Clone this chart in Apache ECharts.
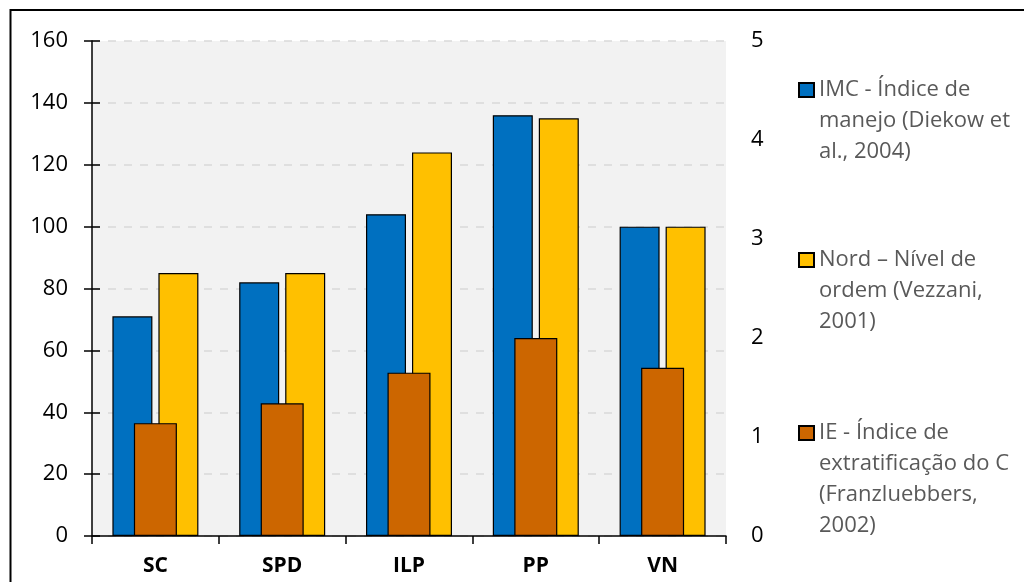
<!DOCTYPE html>
<html>
<head>
<meta charset="utf-8">
<script src="https://cdn.jsdelivr.net/npm/echarts@6/dist/echarts.min.js"></script>
<style>html,body{margin:0;padding:0;background:#fff;}#c{width:1024px;height:582px;}</style>
</head>
<body>
<div id="c"></div>
<script>
const categories = ['SC', 'SPD', 'ILP', 'PP', 'VN'];
const imcValues = [71, 82, 104, 136, 100];
const nordValues = [85, 85, 124, 135, 100];
const ieValues = [1.14, 1.34, 1.65, 2.0, 1.70];
const seriesNames = [
  'IMC - Índice de\nmanejo (Diekow et\nal., 2004)',
  'Nord – Nível de\nordem (Vezzani,\n2001)',
  'IE - Índice de\nextratificação do C\n(Franzluebbers,\n2002)'
];
const leftTicks = {min: 0, max: 160, interval: 20};
const rightTicks = {min: 0, max: 5, interval: 1};

const FONT = 'Open Sans';
const LH = 31;
// first text line of each legend entry is aligned with its marker (marker centre y)
const legendCenters = [90, 260, 433];

function makeLegend(name, centerY) {
  const nLines = name.split('\n').length;
  const pad = nLines - 1; // blank lines before so the first line sits in the middle
  const total = nLines + pad;
  return {
    orient: 'vertical', left: 798, top: centerY - total * LH / 2, padding: 0,
    itemWidth: 15, itemHeight: 14, icon: 'rect',
    data: [name],
    formatter: function (n) { return '\n'.repeat(pad) + n; },
    textStyle: {fontFamily: FONT, fontSize: 22, color: '#595959', lineHeight: LH}
  };
}

const chart = echarts.init(document.getElementById('c'), null, {renderer: 'canvas'});
chart.setOption({
  animation: false,
  backgroundColor: '#ffffff',
  textStyle: {fontFamily: FONT},
  graphic: [{
    type: 'rect', z: 100, silent: true,
    shape: {x: 10.5, y: 10, width: 1100, height: 700},
    style: {fill: 'none', stroke: '#000', lineWidth: 2}
  }],
  grid: {left: 92, right: 298, top: 41, bottom: 46, show: true, backgroundColor: '#f2f2f2', borderWidth: 0},
  legend: seriesNames.map((n, i) => makeLegend(n, legendCenters[i])),
  xAxis: [{
    type: 'category', data: categories,
    axisLine: {lineStyle: {color: '#000', width: 1.5}},
    axisTick: {show: true, length: 8, lineStyle: {color: '#000', width: 1.5}},
    axisLabel: {fontFamily: FONT, fontSize: 21, fontWeight: 'bold', color: '#000', margin: 20},
    splitLine: {show: false}
  }, {
    type: 'category', data: categories, show: false
  }],
  yAxis: [{
    type: 'value', min: leftTicks.min, max: leftTicks.max, interval: leftTicks.interval,
    axisLine: {show: true, lineStyle: {color: '#000', width: 1.5}},
    axisTick: {show: true, length: 8, lineStyle: {color: '#000', width: 1.5}},
    axisLabel: {fontFamily: FONT, fontSize: 22, color: '#000', margin: 24},
    splitLine: {show: true, lineStyle: {color: '#d9d9d9', type: [8, 8], width: 1.5}}
  }, {
    type: 'value', position: 'right', min: rightTicks.min, max: rightTicks.max, interval: rightTicks.interval,
    axisLine: {show: false}, axisTick: {show: false},
    axisLabel: {fontFamily: FONT, fontSize: 22, color: '#000', margin: 25, align: 'left'},
    splitLine: {show: false}
  }, {
    type: 'value', position: 'left', min: leftTicks.min, max: leftTicks.max, interval: leftTicks.interval,
    axisLine: {show: false},
    axisTick: {show: true, inside: true, length: 8, lineStyle: {color: '#000', width: 1.5}},
    axisLabel: {show: false}, splitLine: {show: false}
  }],
  series: [{
    name: seriesNames[0], type: 'bar', data: imcValues, xAxisIndex: 0, yAxisIndex: 0,
    barWidth: 40, barGap: '15%',
    itemStyle: {color: '#0070C0', borderColor: '#000', borderWidth: 1.2}
  }, {
    name: seriesNames[1], type: 'bar', data: nordValues, xAxisIndex: 0, yAxisIndex: 0,
    barWidth: 40, barGap: '15%',
    itemStyle: {color: '#FFC000', borderColor: '#000', borderWidth: 1.2}
  }, {
    name: seriesNames[2], type: 'bar', data: ieValues, xAxisIndex: 1, yAxisIndex: 1,
    barWidth: 43, z: 3,
    itemStyle: {color: '#CC6600', borderColor: '#000', borderWidth: 1.2}
  }]
});
</script>
</body>
</html>
